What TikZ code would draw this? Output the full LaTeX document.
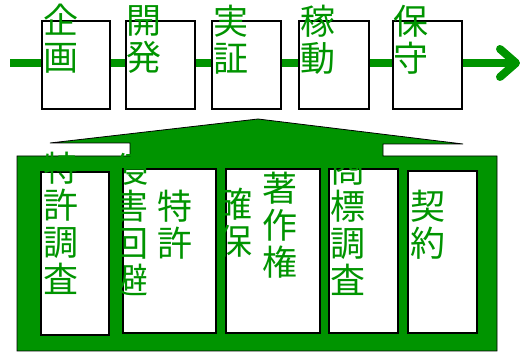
\documentclass[tikz,border=0pt]{standalone}
\usepackage{fontspec}
\newfontfamily\jpfont{Noto Sans CJK JP}
\definecolor{kgreen}{RGB}{0,148,0}
\tikzset{
  topbox/.style={draw=black, line width=1.6pt, fill=white, inner sep=0, minimum width=68pt, minimum height=88pt},
  innerbox/.style={draw=black, line width=1.6pt, fill=white, inner sep=0},
  lbl/.style={text=kgreen, inner sep=0, anchor=north west, align=left, font=\jpfont\fontsize{35}{37}\selectfont},
}
\begin{document}
\begin{tikzpicture}[x=1pt,y=-1pt]
\useasboundingbox (0,0) rectangle (520,352);
% main arrow
\coordinate (as) at (10,63);
\coordinate (ae) at (516,63);
\coordinate (au) at (500,49);
\coordinate (ad) at (500,77);
\draw[kgreen, line width=8pt] (as) -- (ae);
\draw[kgreen, line width=8pt, line cap=round, line join=round] (au) -- (ae) -- (ad);
% top boxes
\node[topbox] (b1) at (76,65) {};
\node[topbox, minimum width=69pt] (b2) at (160.5,65) {};
\node[topbox, minimum width=69pt] (b3) at (246.5,65) {};
\node[topbox, minimum width=70pt] (b4) at (334,65) {};
\node[topbox, minimum width=69pt] (b5) at (427.5,65) {};
% callout frame
\draw[fill=kgreen, draw=black, line width=0.8pt]
  (17,351) -- (17,156) -- (130,156) -- (130,143) -- (50,143) -- (258,119)
  -- (463,144) -- (383,144) -- (383,156) -- (497,156) -- (497,351) -- cycle;
% inner boxes
\node[innerbox, minimum width=68pt, minimum height=163pt] (ia) at (75,253.5) {};
\node[innerbox, minimum width=93pt, minimum height=164pt] (ib) at (169.5,251) {};
\node[innerbox, minimum width=94pt, minimum height=164pt] (ic) at (273,251) {};
\node[innerbox, minimum width=69pt, minimum height=164pt] (id) at (363.5,251) {};
\node[innerbox, minimum width=69pt, minimum height=162pt] (ie) at (442.5,252) {};
% top labels
\node[lbl] (t1) at (43,4) {企\\画};
\node[lbl] (t2) at (126,5) {開\\発};
\node[lbl] (t3) at (213,5) {実\\証};
\node[lbl] (t4) at (300,5) {稼\\動};
\node[lbl] (t5) at (393,5) {保\\守};
% inner labels
\node[lbl] (la) at (43,152) {特\\許\\調\\査};
\node[lbl] (lb1) at (113,153) {侵\\害\\回\\避};
\node[lbl] (lb2) at (157,190) {特\\許};
\node[lbl] (lc1) at (217,188) {確\\保};
\node[lbl] (lc2) at (262,172) {著\\作\\権};
\node[lbl] (ld) at (330,153) {商\\標\\調\\査};
\node[lbl] (le) at (410,190) {契\\約};
\end{tikzpicture}
\end{document}
